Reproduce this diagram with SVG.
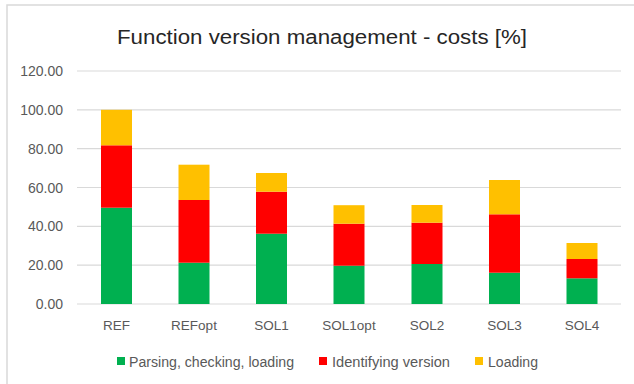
<svg xmlns="http://www.w3.org/2000/svg" width="634" height="384" viewBox="0 0 634 384">
  <style>
    .frame { stroke: #d9d9d9; stroke-width: 1.5; fill: none; }
    .grid { stroke: #d9d9d9; stroke-width: 1.2; }
    .tick { font-family: "Liberation Sans", Arial, sans-serif; font-size: 14px; fill: #595959; text-anchor: end; }
    .cat { font-family: "Liberation Sans", Arial, sans-serif; font-size: 13.5px; fill: #595959; text-anchor: middle; }
    .leg { font-family: "Liberation Sans", Arial, sans-serif; font-size: 14px; fill: #595959; }
    .title { font-family: "Liberation Sans", Arial, sans-serif; font-size: 20px; fill: #262626; text-anchor: middle; }
    .s1 { fill: #00b050; }
    .s2 { fill: #ff0000; }
    .s3 { fill: #ffc000; }
  </style>

  <rect x="0" y="0" width="634" height="384" fill="#ffffff"/>
  <!-- chart area edge -->
  <path class="frame" d="M7,384 V5 H634"/>

  <text class="title" x="322" y="44" textLength="410" lengthAdjust="spacingAndGlyphs">Function version management - costs [%]</text>

  <!-- value axis gridlines and labels -->
  <g id="axis">
    <line class="grid" x1="77" y1="71" x2="621" y2="71"/>
    <line class="grid" x1="77" y1="109.8" x2="621" y2="109.8"/>
    <line class="grid" x1="77" y1="148.7" x2="621" y2="148.7"/>
    <line class="grid" x1="77" y1="187.5" x2="621" y2="187.5"/>
    <line class="grid" x1="77" y1="226.3" x2="621" y2="226.3"/>
    <line class="grid" x1="77" y1="265.2" x2="621" y2="265.2"/>
    <line class="grid" x1="77" y1="304" x2="621" y2="304"/>
    <text class="tick" x="63" y="76">120.00</text>
    <text class="tick" x="63" y="114.8">100.00</text>
    <text class="tick" x="63" y="153.7">80.00</text>
    <text class="tick" x="63" y="192.5">60.00</text>
    <text class="tick" x="63" y="231.3">40.00</text>
    <text class="tick" x="63" y="270.2">20.00</text>
    <text class="tick" x="63" y="309">0.00</text>
  </g>

  <!-- stacked bars: parsing/checking/loading, identifying version, loading -->
  <g id="bar-REF">
    <rect class="s1" x="101" y="207.7" width="31" height="96.3"/>
    <rect class="s2" x="101" y="145.3" width="31" height="62.4"/>
    <rect class="s3" x="101" y="109.8" width="31" height="35.5"/>
    <text class="cat" x="116.5" y="330">REF</text>
  </g>
  <g id="bar-REFopt">
    <rect class="s1" x="178.5" y="262.7" width="31" height="41.3"/>
    <rect class="s2" x="178.5" y="200" width="31" height="62.7"/>
    <rect class="s3" x="178.5" y="164.7" width="31" height="35.3"/>
    <text class="cat" x="194" y="330">REFopt</text>
  </g>
  <g id="bar-SOL1">
    <rect class="s1" x="256" y="233.7" width="31" height="70.3"/>
    <rect class="s2" x="256" y="191.7" width="31" height="42"/>
    <rect class="s3" x="256" y="173" width="31" height="18.7"/>
    <text class="cat" x="271.5" y="330">SOL1</text>
  </g>
  <g id="bar-SOL1opt">
    <rect class="s1" x="333.5" y="265.7" width="31" height="38.3"/>
    <rect class="s2" x="333.5" y="223.7" width="31" height="42"/>
    <rect class="s3" x="333.5" y="205.2" width="31" height="18.5"/>
    <text class="cat" x="349" y="330">SOL1opt</text>
  </g>
  <g id="bar-SOL2">
    <rect class="s1" x="411.5" y="264" width="31" height="40"/>
    <rect class="s2" x="411.5" y="222.7" width="31" height="41.3"/>
    <rect class="s3" x="411.5" y="205" width="31" height="17.7"/>
    <text class="cat" x="427" y="330">SOL2</text>
  </g>
  <g id="bar-SOL3">
    <rect class="s1" x="489" y="272.7" width="31" height="31.3"/>
    <rect class="s2" x="489" y="214.3" width="31" height="58.4"/>
    <rect class="s3" x="489" y="180" width="31" height="34.3"/>
    <text class="cat" x="504.5" y="330">SOL3</text>
  </g>
  <g id="bar-SOL4">
    <rect class="s1" x="566.5" y="278.3" width="31" height="25.7"/>
    <rect class="s2" x="566.5" y="259" width="31" height="19.3"/>
    <rect class="s3" x="566.5" y="243" width="31" height="16"/>
    <text class="cat" x="582" y="330">SOL4</text>
  </g>

  <!-- legend -->
  <g id="legend">
    <rect class="s1" x="117" y="357" width="8" height="8"/>
    <text class="leg" x="129" y="366.5" textLength="165" lengthAdjust="spacingAndGlyphs">Parsing, checking, loading</text>
    <rect class="s2" x="319" y="357" width="8" height="8"/>
    <text class="leg" x="332" y="366.5" textLength="118" lengthAdjust="spacingAndGlyphs">Identifying version</text>
    <rect class="s3" x="475" y="357" width="8" height="8"/>
    <text class="leg" x="488" y="366.5" textLength="50" lengthAdjust="spacingAndGlyphs">Loading</text>
  </g>
</svg>
